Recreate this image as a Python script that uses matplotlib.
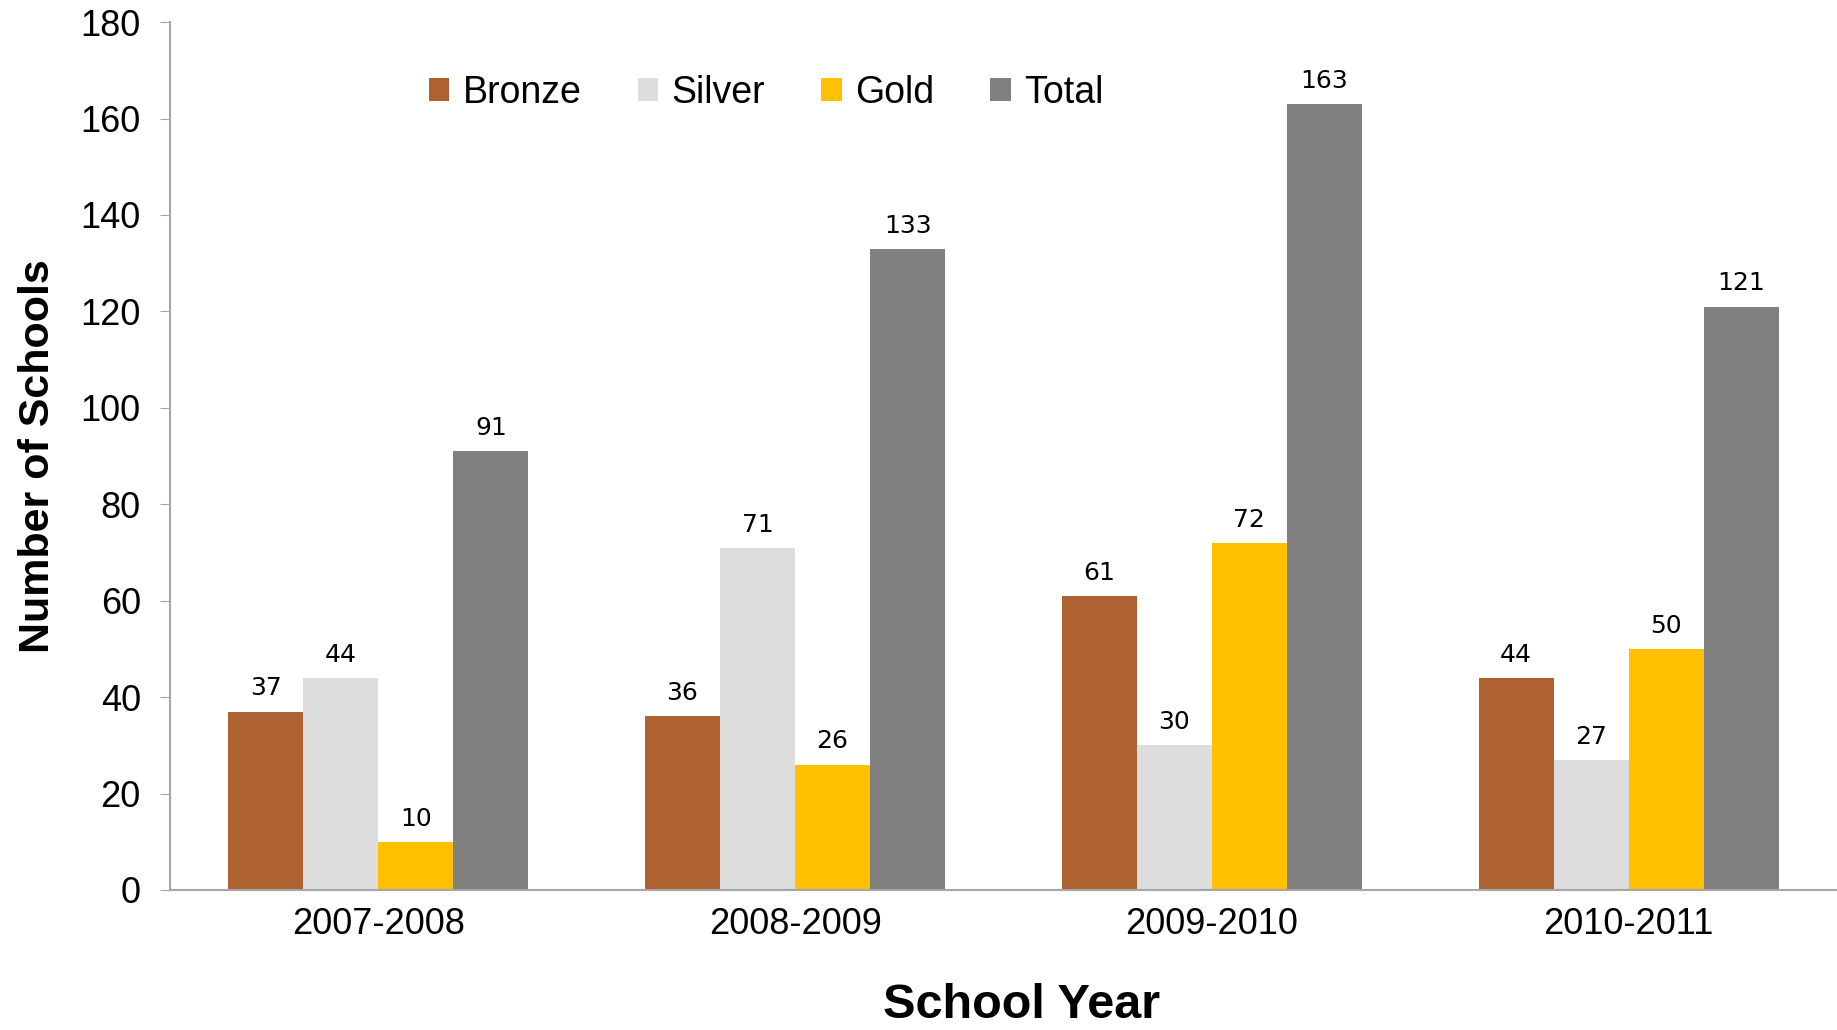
import matplotlib.pyplot as plt
import numpy as np

plt.rcParams['font.family'] = ['Liberation Sans', 'DejaVu Sans']
plt.rcParams['font.size'] = 24

# data
years = ['2007-2008', '2008-2009', '2009-2010', '2010-2011']
series_names = ['Bronze', 'Silver', 'Gold', 'Total']
bronze = [37, 36, 61, 44]
silver = [44, 71, 30, 27]
gold = [10, 26, 72, 50]
total = [91, 133, 163, 121]

colors = ['#AF6231', '#DDDDDD', '#FFC000', '#808080']

fig = plt.figure(figsize=(18.37, 10.30), dpi=100)
ax = fig.add_axes([0.0925, 0.136, 0.9075, 0.8425])

x = np.arange(len(years))
width = 0.18
all_series = [bronze, silver, gold, total]
for i, vals in enumerate(all_series):
    pos = x + (i - 1.5) * width
    bars = ax.bar(pos, vals, width, color=colors[i], label=series_names[i])
    for b, v in zip(bars, vals):
        ax.annotate(str(v), (b.get_x() + b.get_width() / 2, v),
                    xytext=(0, 8), textcoords='offset points',
                    ha='center', va='bottom', fontsize=18,
                    family='DejaVu Sans')

ax.set_xlim(-0.5, 3.5)
ax.set_ylim(0, 180)
ax.set_yticks(np.arange(0, 181, 20))
ax.set_xticks(x, years)
ax.tick_params(axis='x', length=0, pad=12, labelsize=26)
ax.tick_params(axis='y', length=7, color='#A6A6A6', pad=14, labelsize=26)

for s in ['top', 'right']:
    ax.spines[s].set_visible(False)
ax.spines['left'].set_color('#A6A6A6')
ax.spines['bottom'].set_color('#A6A6A6')
ax.spines['left'].set_linewidth(1.5)
ax.spines['bottom'].set_linewidth(1.5)

ax.set_ylabel('Number of Schools', fontsize=31, fontweight='bold', labelpad=16)
ax.set_xlabel('School Year', fontsize=35, fontweight='bold', labelpad=30)
ax.xaxis.label.set_x(0.511)

ax.legend(ncol=4, frameon=False, loc='upper left', bbox_to_anchor=(0.135, 0.978),
          fontsize=27, handlelength=0.55, handleheight=0.55, handletextpad=0.35,
          columnspacing=1.5)

plt.savefig('out.png', dpi=100)
